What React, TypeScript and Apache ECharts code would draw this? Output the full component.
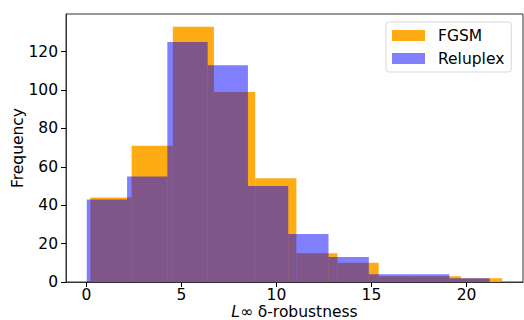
import React, { useEffect, useRef } from "react";
import * as echarts from "echarts";

const fgsmEdges = [0.21, 2.38, 4.55, 6.71, 8.88, 11.05, 13.21, 15.38, 17.55, 19.71, 21.88];
const fgsmCounts = [44, 71, 133, 99, 54, 15, 10, 3, 3, 2];
const reluplexEdges = [0.02, 2.14, 4.26, 6.38, 8.5, 10.62, 12.74, 14.86, 16.98, 19.1, 21.22];
const reluplexCounts = [43, 55, 125, 113, 50, 25, 13, 4, 4, 2];
const xTicks = [0, 5, 10, 15, 20];
const yTicks = [0, 20, 40, 60, 80, 100, 120];

const FONT = "DejaVu Sans";
const ORANGE = "rgba(255,165,0,0.92)";
const BLUE = "rgba(0,0,255,0.5)";

function toBins(edges: number[], counts: number[]) {
  return counts.map((c, i) => [edges[i], edges[i + 1], c]);
}

function makeRender(color: string) {
  return (params: any, api: any) => {
    const p0 = api.coord([api.value(0), api.value(2)]);
    const p1 = api.coord([api.value(1), 0]);
    return {
      type: "rect",
      shape: { x: p0[0], y: p0[1], width: p1[0] - p0[0], height: p1[1] - p0[1] },
      style: { fill: color },
    };
  };
}

export default function App() {
  const ref = useRef<HTMLDivElement>(null);
  useEffect(() => {
    if (!ref.current) return;
    const chart = echarts.init(ref.current, undefined, { renderer: "svg" });
    const allEdges = fgsmEdges.concat(reluplexEdges);
    const lo = Math.min(...allEdges);
    const hi = Math.max(...allEdges);
    const pad = (hi - lo) * 0.05;
    const yMax = Math.max(...fgsmCounts, ...reluplexCounts) * 1.05;
    chart.setOption({
      animation: false,
      grid: {
        left: 66,
        top: 14,
        width: 457,
        height: 268,
        show: true,
        borderColor: "#333",
        borderWidth: 1,
        outerBoundsMode: "none",
      },
      legend: {
        orient: "vertical",
        left: 386,
        top: 22,
        padding: [5, 7, 5, 6],
        itemWidth: 33,
        itemHeight: 11,
        itemGap: 6,
        borderColor: "#d9d9d9",
        borderWidth: 1,
        borderRadius: 3,
        backgroundColor: "#fff",
        textStyle: { fontFamily: FONT, fontSize: 15.5, color: "#000", lineHeight: 17, padding: [0, 0, 0, 8] },
        data: [
          { name: "FGSM", icon: "rect", itemStyle: { color: ORANGE } },
          { name: "Reluplex", icon: "rect", itemStyle: { color: BLUE } },
        ],
      },
      xAxis: {
        type: "value",
        min: lo - pad,
        max: hi + pad,
        splitLine: { show: false },
        axisLine: { show: true, onZero: false, lineStyle: { color: "#333", width: 1 } },
        axisTick: { show: true, length: 5, customValues: xTicks, lineStyle: { color: "#000" } },
        axisLabel: {
          customValues: xTicks,
          fontFamily: FONT,
          fontSize: 15.5,
          lineHeight: 14,
          color: "#000",
          margin: 6,
        },
        name: "{i|L}∞ δ-robustness",
        nameLocation: "middle",
        nameGap: 22,
        nameMoveOverlap: false,
        nameTextStyle: {
          fontFamily: FONT,
          fontSize: 15.5,
          lineHeight: 15,
          color: "#000",
          rich: { i: { fontFamily: FONT, fontSize: 15.5, lineHeight: 15, fontStyle: "italic", color: "#000" } },
        },
      },
      yAxis: {
        type: "value",
        min: 0,
        max: yMax,
        splitLine: { show: false },
        axisLine: { show: true, onZero: false, lineStyle: { color: "#333", width: 1 } },
        axisTick: { show: true, length: 5, customValues: yTicks, lineStyle: { color: "#000" } },
        axisLabel: { customValues: yTicks, fontFamily: FONT, fontSize: 15.5, color: "#000", margin: 8 },
        name: "Frequency",
        nameLocation: "middle",
        nameGap: 40,
        nameMoveOverlap: false,
        nameTextStyle: { fontFamily: FONT, fontSize: 15.5, color: "#000" },
      },
      series: [
        {
          name: "FGSM",
          type: "custom",
          renderItem: makeRender(ORANGE),
          itemStyle: { color: ORANGE },
          encode: { x: [0, 1], y: 2 },
          data: toBins(fgsmEdges, fgsmCounts),
        },
        {
          name: "Reluplex",
          type: "custom",
          renderItem: makeRender(BLUE),
          itemStyle: { color: BLUE },
          encode: { x: [0, 1], y: 2 },
          data: toBins(reluplexEdges, reluplexCounts),
        },
      ],
    });
    return () => chart.dispose();
  }, []);
  return (
    <div
      ref={ref}
      style={{ position: "fixed", left: 0, top: 0, width: 524, height: 320, background: "#fff" }}
    />
  );
}
